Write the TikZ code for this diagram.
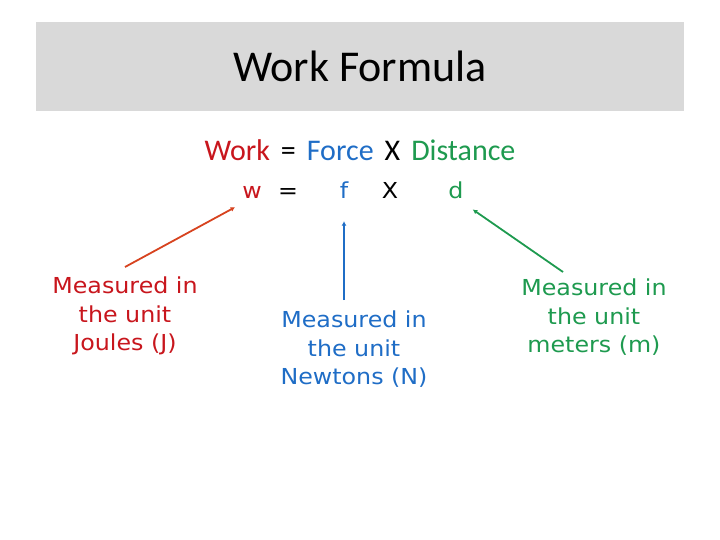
\documentclass[tikz,border=0pt]{standalone}
\usepackage{fontspec}
\usepackage{tikz}
\usepackage{xcolor}
\usetikzlibrary{arrows.meta}
\setmainfont{DejaVu Sans}[FakeStretch=1.08]
\newfontfamily\calfont{Carlito}

\definecolor{workred}{HTML}{C8161D}
\definecolor{workline}{HTML}{D7431F}
\definecolor{forceblue}{HTML}{1F6DC6}
\definecolor{distgreen}{HTML}{1E9A4F}
\definecolor{bandgray}{HTML}{D9D9D9}

\tikzset{
    unitlabel/.style={align=center, anchor=north, inner sep=0pt,
        font=\fontsize{22}{28.5}\selectfont},
    symbol/.style={anchor=base, inner sep=0pt, font=\fontsize{22}{26}\selectfont},
    pointer/.style={->, >={Latex[length=4.5pt,width=5pt]}, line width=1.8pt}
}

\begin{document}
\begin{tikzpicture}[x=1pt, y=-1pt]
    \useasboundingbox (0,0) rectangle (720,540);
    \fill[bandgray] (36,22) rectangle (684,111);
    \node[anchor=base, inner sep=0pt, font=\calfont\fontsize{44}{50}\selectfont] (title) at (360,82) {Work Formula};

    \node[anchor=base, inner sep=0pt, font=\calfont\fontsize{30}{34}\selectfont] (formula) at (360,161)
        {\textcolor{workred}{Work}\hspace{11pt}=\hspace{11pt}\textcolor{forceblue}{Force}\hspace{11pt}X\hspace{11pt}\textcolor{distgreen}{Distance}};

    \node[symbol, workred] (w) at (252,199) {w};
    \node[symbol] (eq) at (288,199) {=};
    \node[symbol, forceblue] (f) at (344,199) {f};
    \node[symbol] (times) at (390,199) {X};
    \node[symbol, distgreen] (d) at (456,199) {d};

    \node[unitlabel, workred] (joules) at (125,277) {Measured in\\the unit\\Joules (J)};
    \node[unitlabel, forceblue] (newtons) at (354,311) {Measured in\\the unit\\Newtons (N)};
    \node[unitlabel, distgreen] (meters) at (594,279) {Measured in\\the unit\\meters (m)};

    \draw[pointer, workline] ([yshift=10pt]joules.north) -- ([xshift=-7pt,yshift=-8pt]w.south west);
    \draw[pointer, forceblue] ([xshift=-10pt,yshift=11pt]newtons.north) -- ([yshift=-22pt]f.south);
    \draw[pointer, distgreen] ([xshift=-31pt,yshift=7pt]meters.north) -- ([xshift=9pt,yshift=-10pt]d.south east);
\end{tikzpicture}
\end{document}
